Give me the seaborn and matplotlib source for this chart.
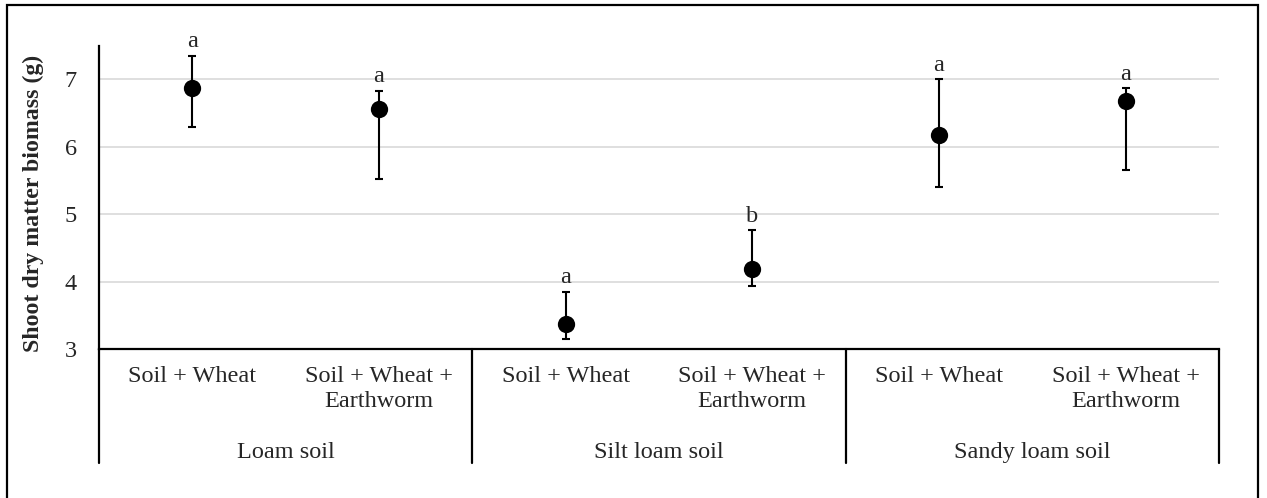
import numpy as np
import pandas as pd
import matplotlib.pyplot as plt
import matplotlib.transforms as mtrans
from matplotlib.patches import Rectangle
import seaborn as sns

# values
treatments = ['Soil + Wheat', 'Soil + Wheat +\nEarthworm'] * 3
soils = ['Loam soil', 'Silt loam soil', 'Sandy loam soil']
means = [6.87, 6.56, 3.37, 4.18, 6.17, 6.68]
upper = [7.35, 6.83, 3.85, 4.76, 7.00, 6.87]
lower = [6.30, 5.52, 3.15, 3.94, 5.40, 5.65]
letters = ['a', 'a', 'a', 'b', 'a', 'a']

df = pd.DataFrame({'pos': [f'{s}|{t}' for s in soils for t in treatments[:2]],
                   'mean': means, 'upper': upper, 'lower': lower, 'letter': letters})

sns.set_style('white')
plt.rcParams['font.family'] = ['Liberation Serif', 'DejaVu Serif']
FS = 17.5

fig = plt.figure(figsize=(12.67, 4.98), dpi=100)
ax = fig.add_axes([99/1267, 1-349/498, 1120/1267, (349-45.7)/498])

sns.scatterplot(data=df, x='pos', y='mean', color='black', s=155, zorder=3,
                edgecolor='black', linewidth=0, ax=ax)
xs = np.arange(len(df))
ax.errorbar(xs, df['mean'], yerr=[df['mean'] - df['lower'], df['upper'] - df['mean']],
            fmt='none', ecolor='black', elinewidth=1.5, capsize=3.2, capthick=1.5, zorder=2)

for x, u, l in zip(xs, df['upper'], df['letter']):
    ax.annotate(l, (x, u), xytext=(0, 2.5), textcoords='offset points',
                ha='center', va='bottom', fontsize=FS)

ax.set_xlim(-0.5, 5.5)
ax.set_ylim(3, 7.5)
ax.set_yticks([3, 4, 5, 6, 7])
ax.yaxis.grid(True, color='#d9d9d9', linewidth=1.2)
ax.set_axisbelow(True)
ax.tick_params(axis='y', length=0, pad=16, labelsize=FS)
ax.set_xticks([])
ax.set_xlabel('')
ax.set_ylabel('Shoot dry matter biomass (g)', fontsize=17.2, fontweight='bold')
ax.yaxis.set_label_coords(-0.049, 0.48)
for side in ['top', 'right']:
    ax.spines[side].set_visible(False)
for side in ['left', 'bottom']:
    ax.spines[side].set_color('black')
    ax.spines[side].set_linewidth(1.6)

# multi-level category axis
trans = mtrans.blended_transform_factory(ax.transData, ax.transAxes)
low = (349 - 463) / 303.3
for sep in [-0.5, 1.5, 3.5, 5.5]:
    ax.plot([sep, sep], [0, low], transform=trans, color='black', lw=1.6, clip_on=False)
for x, t in zip(xs, treatments):
    ax.text(x, -0.055, t, transform=trans, ha='center', va='top', fontsize=FS,
            linespacing=1.3)
for i, s in enumerate(soils):
    ax.text(2 * i + 0.5, -0.305, s, transform=trans, ha='center', va='top', fontsize=FS)

# chart border
fig.patches.append(Rectangle((7/1267, -0.05), 1251/1267, 1.05 - 5/498, transform=fig.transFigure,
                             fill=False, edgecolor='black', linewidth=1.6))

fig.savefig('out.png', dpi=100)
